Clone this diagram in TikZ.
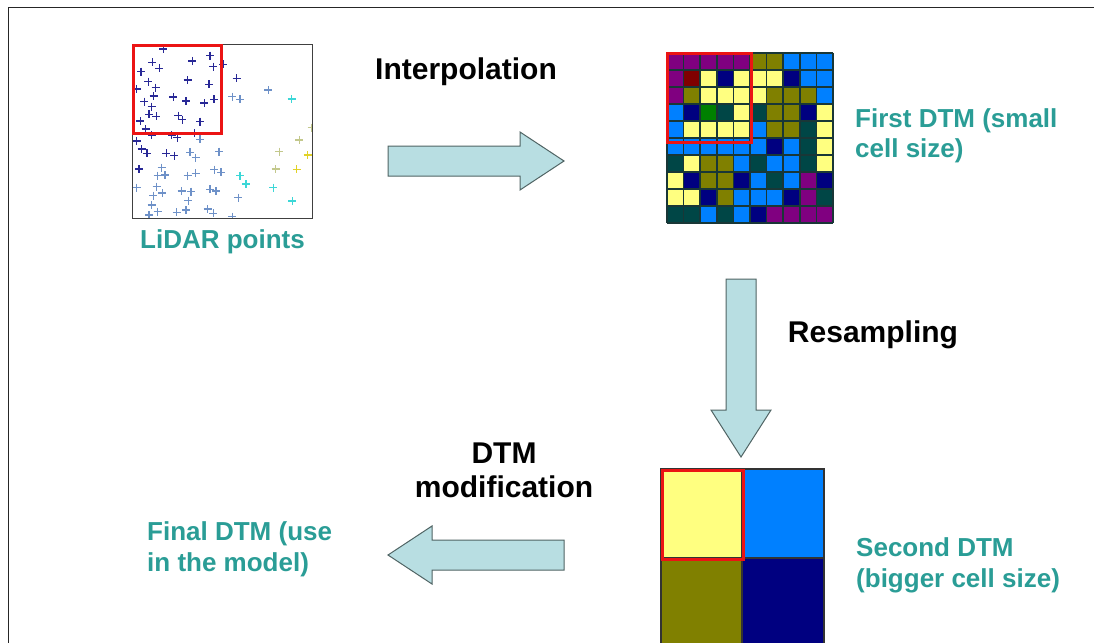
\documentclass[tikz,border=0pt]{standalone}
\usepackage{fontspec}
\setmainfont{Liberation Sans}
\definecolor{teal2}{RGB}{42,157,150}
\definecolor{arrfill}{RGB}{184,222,226}
\definecolor{arrline}{RGB}{80,100,100}
\definecolor{cP}{RGB}{128,0,128}
\definecolor{cO}{RGB}{128,128,0}
\definecolor{cB}{RGB}{0,128,255}
\definecolor{cY}{RGB}{255,255,128}
\definecolor{cN}{RGB}{0,0,128}
\definecolor{cR}{RGB}{128,0,0}
\definecolor{cG}{RGB}{0,128,0}
\definecolor{cD}{RGB}{0,70,70}
\definecolor{gridline}{RGB}{25,55,55}
\definecolor{ptN}{RGB}{40,40,150}
\definecolor{ptM}{RGB}{110,145,200}
\definecolor{ptC}{RGB}{60,215,215}
\definecolor{ptL}{RGB}{195,200,140}
\definecolor{ptY}{RGB}{225,210,40}
\definecolor{redbox}{RGB}{235,20,20}
\tikzset{
  blk/.style={font=\fontsize{30}{34}\selectfont\bfseries, text=black, inner sep=0pt},
  tl/.style={font=\fontsize{26}{30}\selectfont\bfseries, text=teal2, inner sep=0pt},
  bigarrow/.style={fill=arrfill, draw=arrline, line width=1pt, line join=miter},
  redframe/.style={draw=redbox, line width=3pt},
  pt/.style={line width=1.1pt},
}
\newcommand{\plusat}[3]{\draw[pt,#1] (#2-4,#3) -- (#2+4,#3) (#2,#3-4) -- (#2,#3+4);}
\begin{document}
\begin{tikzpicture}[x=1pt,y=-1pt]
\useasboundingbox (0,0) rectangle (1094,642);
\fill[white] (0,0) rectangle (1094,642);
% outer frame (top and left visible)
\draw[line width=1.6pt, black!85] (8.5,700) -- (8.5,7.5) -- (1100,7.5);

% ---------- LiDAR points ----------
\coordinate (lid1) at (132,44);
\coordinate (lid2) at (312,218);
\begin{scope}
\clip (lid1) rectangle (lid2);
\foreach \x/\y in {163.3/49,152.3/62.3,159.3/68.3,141/71.7,192.3/61,210/55.7,213.3/66.7,223.3/64.3,187.7/80,209/84.3,148.3/81.7,155.7/87.7,136.7/89,153.7/96,173.3/97,144.3/101.7,151.7/106.7,186/101,204.3/103,214/99.3,149/114.3,156.3/116.3,178.3/115.7,182.3/119.7,200/121.7,140.3/121,236.7/78.3,151.7/135,171.7/135,177.3/137.7,194.3/133.3,136.7/141,141.7/149,147/153.3,166.3/153.3,174.3/155.7,139/169,145.7/129}
  {\plusat{ptN}{\x}{\y}}
\foreach \x/\y in {200/139.3,190/152.3,195.7/157.7,219/151.7,232.3/96.7,240/99.3,268.3/90,161.7/167.7,157.7/175.7,165/175,187.7/175.7,195.7/173.3,214.3/169.7,221/172.3,136.7/187.7,156.7/186.7,153.3/195.7,162.3/193,181.7/191,191/191.7,210/189.3,216/191,188.3/200.7,151.7/205,149/215,157.7/211.7,176.7/212.3,186/210,207.7/209,213.3/213.3,232.3/216.7,238.3/197.7}
  {\plusat{ptM}{\x}{\y}}
\foreach \x/\y in {291.7/99,240/175.7,246/184,273.3/187.7,292.3/201}
  {\plusat{ptC}{\x}{\y}}
\foreach \x/\y in {279.3/151.7,275.7/169,299.3/140,311.7/127.7}
  {\plusat{ptL}{\x}{\y}}
\foreach \x/\y in {307.7/155,296.7/169.3}
  {\plusat{ptY}{\x}{\y}}
\end{scope}
\node[draw=black!75, line width=1pt, inner sep=0pt, minimum width=180pt, minimum height=174pt, anchor=north west] (lidar) at (lid1) {};
\node[redframe, inner sep=0pt, minimum width=88pt, minimum height=88pt, anchor=north west] (lidred) at (132,44) {};
\node[tl, anchor=base] (lidarlbl) at (222.5,248) {LiDAR points};

% ---------- First DTM ----------
\def\gx{667}\def\gy{53}\def\cw{16.6}\def\ch{17}
\foreach \row [count=\r from 0] in {{P,P,P,P,P,O,O,B,B,B},{P,R,Y,N,Y,Y,Y,N,B,B},{P,O,Y,Y,Y,Y,O,O,O,B},{B,N,G,D,Y,D,O,O,N,Y},{B,Y,Y,Y,Y,B,O,O,D,Y},{B,B,B,B,B,B,N,B,D,Y},{D,Y,O,O,B,D,B,B,D,Y},{Y,N,O,O,N,B,D,B,P,N},{Y,Y,N,O,B,B,B,N,P,D},{D,D,B,D,B,N,P,P,P,P}}{
  \foreach \c [count=\k from 0] in \row {
    \fill[c\c] ({\gx+\k*\cw},{\gy+\r*\ch}) rectangle ++(\cw,\ch);
  }
}
\foreach \k in {0,...,10}{
  \draw[gridline, line width=1.5pt] ({\gx+\k*\cw},\gy) -- ({\gx+\k*\cw},{\gy+10*\ch});
  \draw[gridline, line width=1.5pt] (\gx,{\gy+\k*\ch}) -- ({\gx+10*\cw},{\gy+\k*\ch});
}
\node[inner sep=0pt, minimum width=166pt, minimum height=170pt, anchor=north west] (dtm1) at (667,53) {};
\node[redframe, inner sep=0pt, minimum width=84pt, minimum height=89pt, anchor=north west] (dtm1red) at (666,52) {};
\node[tl, anchor=base west] (dtm1a) at (855,127) {First DTM (small};
\node[tl, anchor=base west] (dtm1b) at (855,157) {cell size)};

% ---------- Second DTM ----------
\begin{scope}
\clip (0,0) rectangle (1094,642);
\fill[cY] (661,469) rectangle (742,558);
\fill[cB] (742,469) rectangle (824,558);
\fill[cO] (661,558) rectangle (742,700);
\fill[cN] (742,558) rectangle (824,700);
\draw[black!80, line width=1.2pt] (661,700) -- (661,469) -- (824,469) -- (824,700);
\draw[black!80, line width=1.2pt] (742,469) -- (742,700) (661,558) -- (824,558);
\end{scope}
\node[inner sep=0pt, minimum width=163pt, minimum height=173pt, anchor=north west] (dtm2) at (661,469) {};
\node[redframe, inner sep=0pt, minimum width=81pt, minimum height=89pt, anchor=north west] (dtm2red) at (661,469) {};
\node[tl, anchor=base west] (dtm2a) at (856,556) {Second DTM};
\node[tl, anchor=base west] (dtm2b) at (856,587) {(bigger cell size)};

% ---------- Final DTM ----------
\node[tl, anchor=base west] (fina) at (147,540) {Final DTM (use};
\node[tl, anchor=base west] (finb) at (147,571) {in the model)};

% ---------- Arrows ----------
\draw[bigarrow] (388,146) -- (520,146) -- (520,132) -- (564,161) -- (520,190) -- (520,176) -- (388,176) -- cycle;
\draw[bigarrow] (726,279) -- (756,279) -- (756,410) -- (771,410) -- (741,457) -- (711,410) -- (726,410) -- cycle;
\draw[bigarrow] (564,540) -- (432,540) -- (432,526) -- (388,555) -- (432,584) -- (432,570) -- (564,570) -- cycle;

% ---------- Arrow labels ----------
\node[blk, anchor=base] (interp) at (466,79) {Interpolation};
\node[blk, anchor=base] (resamp) at (873,342) {Resampling};
\node[blk, anchor=base] (moda) at (504,463) {DTM};
\node[blk, anchor=base] (modb) at (504,497) {modification};
\end{tikzpicture}
\end{document}
